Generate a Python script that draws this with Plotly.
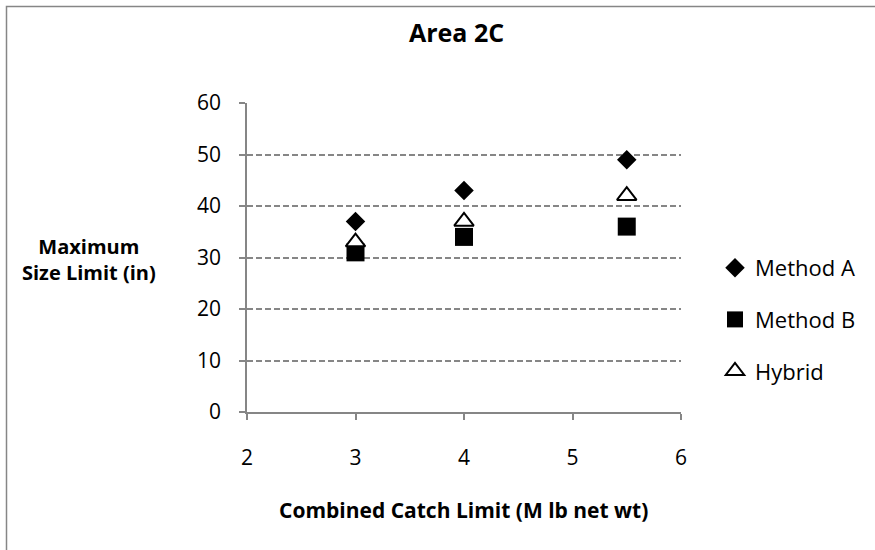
import plotly.graph_objects as go

# Combined catch limit (M lb net wt)
catch_limit = [3, 4, 5.5]

# Maximum size limit (in) by method
method_a = [37, 43, 49]
method_b = [31, 34, 36]
hybrid = [33, 37, 42]

series_names = ["Method A", "Method B", "Hybrid"]
x_ticks = [2, 3, 4, 5, 6]
y_ticks = [0, 10, 20, 30, 40, 50, 60]

FONT = "Open Sans"
GRID = "#868686"

# plot-area geometry in pixels
W, H = 875, 550
L, R, T, B = 247, 681, 103, 412


def px(x):
    return (x - L) / (R - L)


def py(y):
    return (B - y) / (B - T)


fig = go.Figure()

fig.add_trace(go.Scatter(
    x=catch_limit, y=method_a, mode="markers", name=series_names[0],
    legendgroup="a",
    marker=dict(symbol="diamond", size=15, color="black", line=dict(width=0)),
))
fig.add_trace(go.Scatter(
    x=catch_limit, y=method_b, mode="markers", name=series_names[1],
    legendgroup="b",
    marker=dict(symbol="square", size=18, color="black", line=dict(width=0)),
))
fig.add_trace(go.Scatter(
    x=catch_limit, y=hybrid, mode="markers", name=series_names[2],
    legendgroup="c",
    marker=dict(symbol="triangle-up", size=17, color="white",
                line=dict(width=2, color="black")),
))

fig.update_layout(
    width=W, height=H,
    margin=dict(l=L, r=W - R, t=T, b=H - B, pad=0),
    paper_bgcolor="white",
    plot_bgcolor="white",
    font=dict(family=FONT, size=18, color="black"),
    showlegend=True,
    legend=dict(
        x=px(715), y=py(247), xanchor="left", yanchor="top",
        tracegroupgap=20, itemwidth=30,
        font=dict(family=FONT, size=22, color="black"),
        bgcolor="rgba(0,0,0,0)",
    ),
    xaxis=dict(
        range=[2, 6], tickvals=x_ticks, ticktext=[str(v) for v in x_ticks],
        showgrid=False, zeroline=False,
        showline=True, linecolor=GRID, linewidth=1.5,
        ticks="outside", ticklen=6, tickcolor=GRID, tickwidth=1.5,
        tickfont=dict(family=FONT, size=21), ticklabelstandoff=20,
    ),
    yaxis=dict(
        range=[0, 60], tickvals=y_ticks, ticktext=[str(v) for v in y_ticks],
        showgrid=True, gridcolor=GRID, griddash="6px,3px", gridwidth=1.5,
        zeroline=False,
        showline=True, linecolor=GRID, linewidth=1.5,
        ticks="outside", ticklen=6, tickcolor=GRID, tickwidth=1.5,
        tickfont=dict(family=FONT, size=21), ticklabelstandoff=14,
    ),
    annotations=[
        dict(text="<b>Area 2C</b>", x=px(456), y=py(32), xref="paper", yref="paper",
             showarrow=False, xanchor="center", yanchor="middle",
             font=dict(family=FONT, size=25, color="black")),
        dict(text="<b>Maximum<br>Size Limit (in)</b>", x=px(89), y=py(259),
             xref="paper", yref="paper", showarrow=False,
             xanchor="center", yanchor="middle", align="center",
             font=dict(family=FONT, size=20, color="black")),
        dict(text="<b>Combined Catch Limit (M lb net wt)</b>", x=px(463), y=py(510),
             xref="paper", yref="paper", showarrow=False,
             xanchor="center", yanchor="middle",
             font=dict(family=FONT, size=21, color="black")),
    ],
    shapes=[
        # chart frame (top and left edges visible)
        dict(type="rect", xref="paper", yref="paper",
             x0=px(6.5), y0=py(W + 100), x1=px(W + 100), y1=py(6.5),
             line=dict(color=GRID, width=1.5), fillcolor="rgba(0,0,0,0)",
             layer="below"),
    ],
)

fig.write_html("out.html")
